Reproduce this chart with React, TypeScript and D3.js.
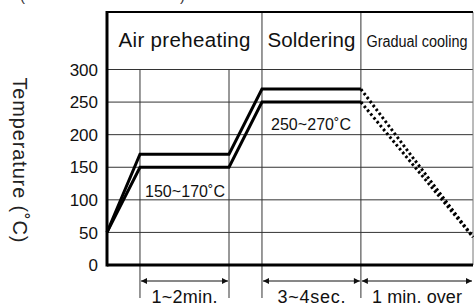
import React from "react";
import * as d3 from "d3";

// temperature axis (°C)
const tempTicks = [0, 50, 100, 150, 200, 250, 300];
// time breakpoints (arbitrary units, grid columns)
const timeMarks = [0, 1, 3.7, 4.7, 7.7, 11.1];

// profiles: [time, temperature]
const upperProfile: [number, number][] = [
  [0, 50],
  [1, 170],
  [3.7, 170],
  [4.7, 270],
  [7.7, 270],
];
const lowerProfile: [number, number][] = [
  [0, 50],
  [1, 150],
  [3.7, 150],
  [4.7, 250],
  [7.7, 250],
];
const coolingUpper: [number, number][] = [
  [7.7, 270],
  [11.1, 43],
];
const coolingLower: [number, number][] = [
  [7.7, 250],
  [11.1, 43],
];

const phaseLabels = ["Air preheating", "Soldering", "Gradual cooling"];
const phaseBounds = [0, 4.7, 7.7, 11.1];
const rangeLabels = ["150~170˚C", "250~270˚C"];
const durationLabels = ["1~2min.", "3~4sec.", "1 min. over"];
const durationBounds: [number, number][] = [
  [1, 3.7],
  [4.7, 7.7],
  [7.7, 11.1],
];

const W = 474;
const H = 307;
const FRAME_TOP = 12;
const FONT = "'Liberation Sans', Arial, Helvetica, sans-serif";

export default function App() {
  const x = d3.scaleLinear().domain([0, 11.1]).range([107, 473]);
  const y = d3.scaleLinear().domain([0, 300]).range([265, 69.5]);
  const line = d3
    .line<[number, number]>()
    .x((d) => x(d[0]))
    .y((d) => y(d[1]));

  const headerW = [132, 88, 101];
  const durW = [66, 68, 90];
  const arrowY = 281;

  return (
    <svg
      width={W}
      height={H}
      style={{ position: "absolute", left: 0, top: 0, background: "#fff" }}
      fontFamily={FONT}
    >
      <defs>
        <marker
          id="ah"
          viewBox="0 0 10 10"
          refX="10"
          refY="5"
          markerWidth="8"
          markerHeight="6"
          markerUnits="userSpaceOnUse"
          orient="auto-start-reverse"
        >
          <path d="M0,0 L10,5 L0,10 z" fill="#111" />
        </marker>
      </defs>

      {/* cropped caption parentheses */}
      <text x={20} y={1} fontSize={15} fill="#333">(</text>
      <text x={180} y={1} fontSize={15} fill="#333">)</text>

      {/* horizontal grid */}
      {tempTicks.slice(1).map((t) => (
        <line
          key={t}
          x1={x(0)}
          x2={x(11.1)}
          y1={y(t)}
          y2={y(t)}
          stroke="#333"
          strokeWidth={1}
        />
      ))}

      {/* vertical grid */}
      {timeMarks.slice(1).map((m) => {
        const isPhase = phaseBounds.includes(m);
        return (
          <line
            key={m}
            x1={x(m)}
            x2={x(m)}
            y1={isPhase ? FRAME_TOP : y(300)}
            y2={m === 11.1 ? y(0) : 298}
            stroke={m === 11.1 ? "#777" : "#333"}
            strokeWidth={1}
          />
        );
      })}

      {/* frame */}
      <line x1={x(0)} x2={x(11.1)} y1={FRAME_TOP} y2={FRAME_TOP} stroke="#000" strokeWidth={2} />
      <line x1={x(0)} x2={x(0)} y1={FRAME_TOP - 1} y2={y(0) + 1.5} stroke="#000" strokeWidth={3} />
      <line x1={x(0)} x2={x(11.1)} y1={y(0)} y2={y(0)} stroke="#000" strokeWidth={3} />

      {/* header */}
      {phaseLabels.map((p, i) => {
        const cx = (x(phaseBounds[i]) + x(phaseBounds[i + 1])) / 2;
        const narrow = i === 2;
        return (
          <text
            key={p}
            x={cx}
            y={47}
            textAnchor="middle"
            fontSize={narrow ? 16 : 20.5}
            fontFamily={narrow ? "'Liberation Sans Narrow', " + FONT : FONT}
            textLength={headerW[i]}
            lengthAdjust={narrow ? "spacingAndGlyphs" : "spacing"}
            fill="#111"
          >
            {p}
          </text>
        );
      })}

      {/* y tick labels */}
      {tempTicks.map((t) => (
        <text
          key={t}
          x={98}
          y={y(t)}
          dy="0.36em"
          textAnchor="end"
          fontSize={17}
          fill="#111"
        >
          {t}
        </text>
      ))}

      {/* y axis title */}
      <text
        transform={`translate(13,160) rotate(90)`}
        textAnchor="middle"
        fontSize={20}
        textLength={165}
        lengthAdjust="spacing"
        fill="#222"
      >
        Temperature (˚C)
      </text>

      {/* profiles */}
      <path d={line(upperProfile) || ""} fill="none" stroke="#000" strokeWidth={3} strokeLinejoin="miter" />
      <path d={line(lowerProfile) || ""} fill="none" stroke="#000" strokeWidth={3} strokeLinejoin="miter" />
      <path d={line(coolingUpper) || ""} fill="none" stroke="#000" strokeWidth={3} strokeDasharray="2.5 2.5" />
      <path d={line(coolingLower) || ""} fill="none" stroke="#000" strokeWidth={3} strokeDasharray="2.5 2.5" />

      {/* range labels */}
      <text x={x(lowerProfile[1][0]) + 5} y={y(lowerProfile[1][1]) + 30} fontSize={16} textLength={80} fill="#111">
        {rangeLabels[0]}
      </text>
      <text x={x(lowerProfile[3][0]) + 9} y={y(lowerProfile[3][1]) + 28} fontSize={16} textLength={80} fill="#111">
        {rangeLabels[1]}
      </text>

      {/* duration arrows */}
      {durationBounds.map(([a, b], i) => (
        <g key={durationLabels[i]}>
          <line
            x1={x(a) + 1}
            x2={x(b) - 1}
            y1={arrowY}
            y2={arrowY}
            stroke="#111"
            strokeWidth={1}
            markerStart="url(#ah)"
            markerEnd="url(#ah)"
          />
          <text
            x={(x(a) + x(b)) / 2}
            y={303}
            textAnchor="middle"
            fontSize={18}
            textLength={durW[i]}
            lengthAdjust="spacing"
            fill="#111"
          >
            {durationLabels[i]}
          </text>
        </g>
      ))}
    </svg>
  );
}
